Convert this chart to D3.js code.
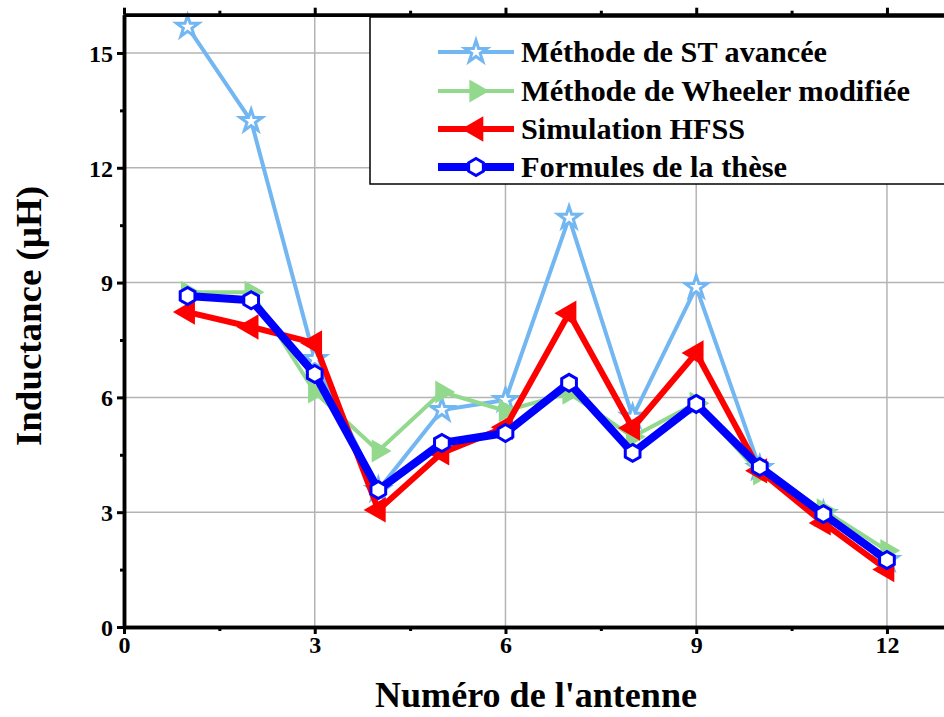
<!DOCTYPE html>
<html>
<head>
<meta charset="utf-8">
<script src="https://cdn.jsdelivr.net/npm/d3@7"></script>
<style>
html,body{margin:0;padding:0;background:#fff;}
svg{display:block;}
</style>
</head>
<body>
<svg id="chart" width="944" height="717"></svg>
<script>
const antennas = [1,2,3,4,5,6,7,8,9,10,11,12];
const stAvancee = [15.68,13.22,7.0,3.58,5.67,5.93,10.69,5.49,8.88,4.15,2.95,1.75];
const wheelerModifiee = [8.75,8.75,6.14,4.6,6.14,5.65,6.11,4.97,5.85,4.0,3.06,2.0];
const simulationHFSS = [8.23,7.84,7.42,3.06,4.55,5.22,8.2,5.2,7.16,4.08,2.72,1.5];
const formulesThese = [8.65,8.54,6.61,3.58,4.81,5.07,6.38,4.55,5.83,4.18,2.95,1.75];
const seriesNames = ["Méthode de ST avancée","Méthode de Wheeler modifiée","Simulation HFSS","Formules de la thèse"];
const xTicks = [0,3,6,9,12];
const yTicks = [0,3,6,9,12,15];
const xTitle = "Numéro de l'antenne";
const yTitle = "Inductance (µH)";

const FONT = "'Liberation Serif', 'DejaVu Serif', Tinos, 'Times New Roman', serif";

const svg = d3.select("#chart");
const x = d3.scaleLinear().domain([0,13]).range([124, 124 + 13*63.58]);
const y = d3.scaleLinear().domain([0,16]).range([627, 14.7]);

// grid
const g = svg.append("g");
g.selectAll(".gx").data(xTicks.filter(d=>d>0)).enter().append("line")
  .attr("x1",d=>x(d)).attr("x2",d=>x(d)).attr("y1",y(0)).attr("y2",y(16))
  .attr("stroke","#b4b4b4").attr("stroke-width",1.5);
g.selectAll(".gy").data(yTicks.filter(d=>d>0)).enter().append("line")
  .attr("y1",d=>y(d)).attr("y2",d=>y(d)).attr("x1",x(0)).attr("x2",x(13))
  .attr("stroke","#b4b4b4").attr("stroke-width",1.5);

const series = [
  {name:seriesNames[0], values:stAvancee, color:"#72b6f2", width:4, marker:"star"},
  {name:seriesNames[1], values:wheelerModifiee, color:"#92d98e", width:4, marker:"right"},
  {name:seriesNames[2], values:simulationHFSS, color:"#ff0000", width:6, marker:"left"},
  {name:seriesNames[3], values:formulesThese, color:"#0000ff", width:8, marker:"hex"}
];
const legendWidths = [306, 389, 224, 266];

function hexPath(r){
  const pts=[];
  for(let i=0;i<6;i++){const a=Math.PI/3*i - Math.PI/2; pts.push([r*Math.cos(a), r*Math.sin(a)]);}
  return "M"+pts.map(p=>p.join(",")).join("L")+"Z";
}
function drawMarker(sel, s, cx, cy){
  if(s.marker==="star"){
    sel.append("path").attr("d", d3.symbol().type(d3.symbolStar).size(150)())
      .attr("transform",`translate(${cx},${cy})`).attr("fill","#fff").attr("stroke",s.color).attr("stroke-width",3);
  } else if(s.marker==="right"){
    sel.append("path").attr("d", d3.symbol().type(d3.symbolTriangle).size(230)())
      .attr("transform",`translate(${cx},${cy}) rotate(90)`).attr("fill",s.color);
  } else if(s.marker==="left"){
    sel.append("path").attr("d", d3.symbol().type(d3.symbolTriangle).size(280)())
      .attr("transform",`translate(${cx},${cy}) rotate(-90)`).attr("fill",s.color);
  } else {
    sel.append("path").attr("d", hexPath(8.5))
      .attr("transform",`translate(${cx},${cy})`).attr("fill","#fff").attr("stroke",s.color).attr("stroke-width",3);
  }
}

const line = d3.line().x((d,i)=>x(antennas[i])).y(d=>y(d));
series.forEach(s=>{
  const sg = svg.append("g");
  sg.append("path").datum(s.values).attr("d",line).attr("fill","none")
    .attr("stroke",s.color).attr("stroke-width",s.width).attr("stroke-linejoin","round");
  s.values.forEach((v,i)=>drawMarker(sg, s, x(antennas[i]), y(v)));
});

// axes
const axB = svg.append("g").attr("transform",`translate(0,${y(0)})`)
  .call(d3.axisBottom(x).tickValues(xTicks).tickSize(7).tickSizeOuter(0).tickFormat(d3.format("d")));
const axL = svg.append("g").attr("transform",`translate(${x(0)},0)`)
  .call(d3.axisLeft(y).tickValues(yTicks).tickSize(7).tickSizeOuter(0).tickFormat(d3.format("d")));
svg.append("g").attr("transform",`translate(0,${y(16)})`)
  .call(d3.axisTop(x).tickValues(xTicks).tickSize(7).tickSizeOuter(0).tickFormat(""));
const minorX = [1.5,4.5,7.5,10.5];
const minorY = [1.5,4.5,7.5,10.5,13.5];
svg.append("g").attr("transform",`translate(0,${y(0)})`)
  .call(d3.axisBottom(x).tickValues(minorX).tickSize(4).tickSizeOuter(0).tickFormat(""));
svg.append("g").attr("transform",`translate(0,${y(16)})`)
  .call(d3.axisTop(x).tickValues(minorX).tickSize(4).tickSizeOuter(0).tickFormat(""));
svg.append("g").attr("transform",`translate(${x(0)},0)`)
  .call(d3.axisLeft(y).tickValues(minorY).tickSize(4).tickSizeOuter(0).tickFormat(""));
svg.selectAll(".domain").attr("stroke","#000").attr("stroke-width",3.5);
svg.selectAll(".tick line").attr("stroke","#000").attr("stroke-width",3);
svg.selectAll("g").attr("font-family",null);
axB.selectAll("text").attr("font-size",24).attr("dy","0.75em").attr("y",8);
axL.selectAll("text").attr("font-size",24).attr("x",-11).attr("dy","0.35em");

// legend
const lg = svg.append("g");
lg.append("rect").attr("x",370).attr("y",17).attr("width",600).attr("height",167)
  .attr("fill","#fff").attr("stroke","#000").attr("stroke-width",1.5);
const rowsY = [52,91,129,167];
series.forEach((s,i)=>{
  const ry = rowsY[i];
  lg.append("line").attr("x1",438).attr("x2",514).attr("y1",ry).attr("y2",ry)
    .attr("stroke",s.color).attr("stroke-width",s.width);
  drawMarker(lg, s, 476, ry);
  lg.append("text").attr("x",521).attr("y",ry+10).attr("font-size",30)
    .attr("textLength",legendWidths[i]).attr("lengthAdjust","spacingAndGlyphs").text(s.name);
});

// titles
svg.append("text").attr("x",536).attr("y",707).attr("text-anchor","middle").attr("font-size",36)
  .attr("textLength",322).attr("lengthAdjust","spacingAndGlyphs").text(xTitle);
svg.append("text").attr("transform","translate(41,316) rotate(-90)").attr("text-anchor","middle").attr("font-size",36)
  .attr("textLength",260).attr("lengthAdjust","spacingAndGlyphs").text(yTitle);

svg.selectAll("text").style("font-family",FONT).style("font-weight","bold").attr("fill","#000");
</script>
</body>
</html>
